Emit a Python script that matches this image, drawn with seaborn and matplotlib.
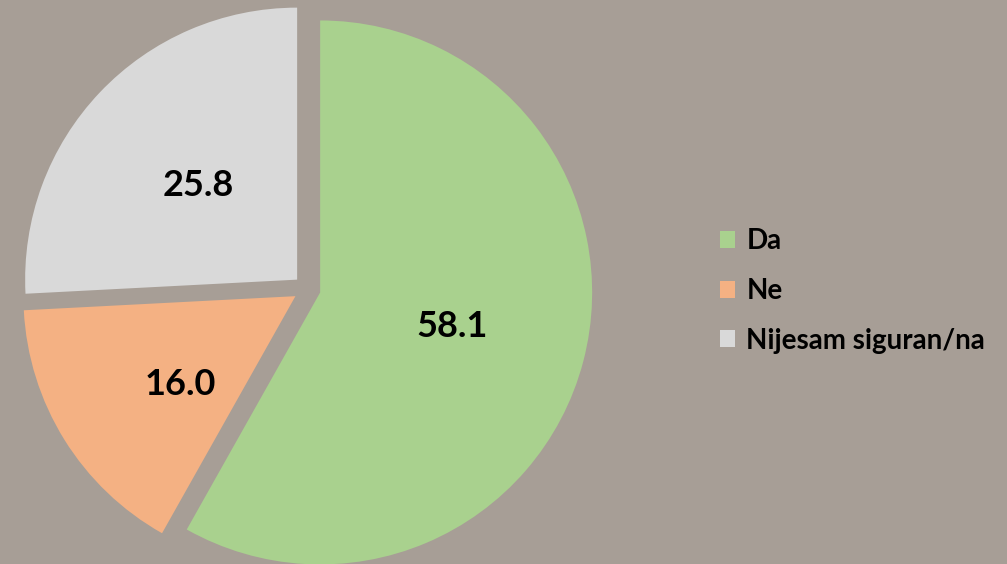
import matplotlib
matplotlib.use("Agg")
import matplotlib.pyplot as plt
import seaborn as sns
from matplotlib.patches import Patch

# 数据
categories = ["Da", "Ne", "Nijesam siguran/na"]
values = [58.1, 16.0, 25.8]
colors = ["#a9d18e", "#f4b183", "#d9d9d9"]
bg_color = "#a79e96"

sns.set_style("white")
plt.rcParams["font.family"] = ["Lato", "DejaVu Sans"]
plt.rcParams["text.color"] = "black"

fig = plt.figure(figsize=(10.07, 5.64), dpi=100)
fig.patch.set_facecolor(bg_color)
ax = fig.add_axes([0, 0, 1, 1])
ax.set_facecolor(bg_color)

total = sum(values)
wedges, texts, autotexts = ax.pie(
    values,
    colors=colors,
    startangle=90,
    counterclock=False,
    explode=[0.05] * len(values),
    autopct=lambda p: f"{p * total / 100:.1f}",
    pctdistance=0.5,
    wedgeprops=dict(linewidth=0),
    textprops=dict(fontsize=26, fontweight="bold", color="black"),
)
# 小扇区的标签稍微往下放一点
x, y = autotexts[1].get_position()
autotexts[1].set_position((x, y - 0.06))

# 坐标范围: 半径1 = 272 像素, 圆心在 (307, 289)
r_px = 272
ax.set_xlim(-307 / r_px, (1007 - 307) / r_px)
ax.set_ylim(-(564 - 289) / r_px, 289 / r_px)
ax.set_aspect("auto")
ax.axis("off")

handles = [Patch(facecolor=c, edgecolor="none") for c in colors]
leg = fig.legend(
    handles, categories,
    loc="center left", bbox_to_anchor=(706 / 1007, 1 - 291 / 564),
    frameon=False, borderpad=0, handlelength=0.55, handleheight=0.55,
    handletextpad=0.4, labelspacing=0.85,
    prop=dict(family=["Lato", "DejaVu Sans"], weight="bold", size=20),
)
for t in leg.get_texts():
    t.set_fontweight("bold")
    t.set_color("black")

fig.savefig("out.png", dpi=100, facecolor=bg_color)
